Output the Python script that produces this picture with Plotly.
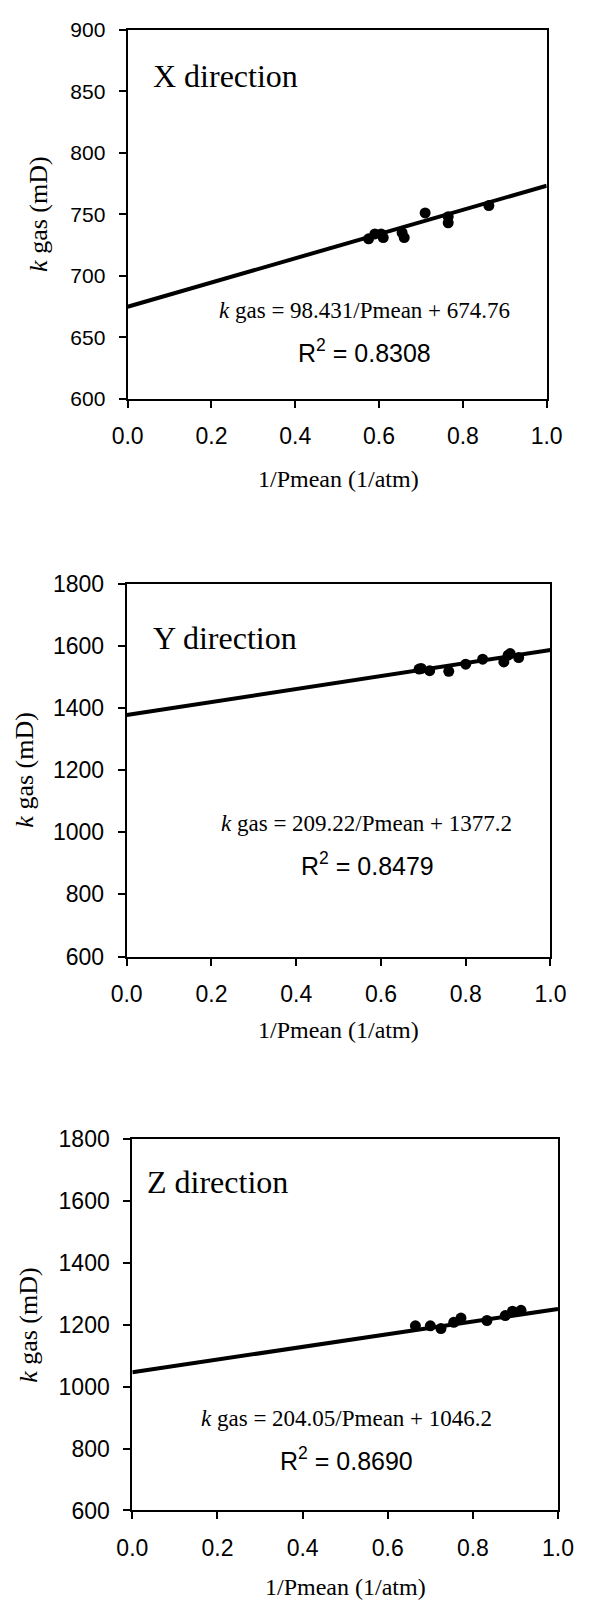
import plotly.graph_objects as go

W, H = 592, 1615

# ---- data ----
x_dir_x = [0.575, 0.59, 0.605, 0.61, 0.655, 0.66, 0.71, 0.765, 0.765, 0.862]
x_dir_y = [730, 734, 734, 731, 735, 731, 751, 748, 743, 757]
x_slope, x_intercept, x_r2 = 98.431, 674.76, "0.8308"

y_dir_x = [0.69, 0.695, 0.715, 0.76, 0.80, 0.84, 0.89, 0.90, 0.905, 0.925]
y_dir_y = [1525, 1527, 1520, 1518, 1541, 1557, 1548, 1570, 1575, 1562]
y_slope, y_intercept, y_r2 = 209.22, 1377.2, "0.8479"

z_dir_x = [0.665, 0.70, 0.725, 0.755, 0.772, 0.833, 0.876, 0.893, 0.913]
z_dir_y = [1196, 1196, 1187, 1207, 1221, 1213, 1229, 1243, 1246]
z_slope, z_intercept, z_r2 = 204.05, 1046.2, "0.8690"

x_ticks = [0.0, 0.2, 0.4, 0.6, 0.8, 1.0]
y_ticks_x = [600, 650, 700, 750, 800, 850, 900]
y_ticks_yz = [600, 800, 1000, 1200, 1400, 1600, 1800]

panels = [
    dict(name="X direction", xs=x_dir_x, ys=x_dir_y, slope=x_slope, icpt=x_intercept,
         r2=x_r2, yticks=y_ticks_x, ytsize=21, eq=f"{x_slope}/Pmean + {x_intercept}",
         box=(118, 561, 17, 392), lbl=(143, 64), eqc=(368, 302), r2c=(368, 344),
         xt=(341, 474), yt=36),
    dict(name="Y direction", xs=y_dir_x, ys=y_dir_y, slope=y_slope, icpt=y_intercept,
         r2=y_r2, yticks=y_ticks_yz, ytsize=23, eq=f"{y_slope}/Pmean + {y_intercept}",
         box=(117, 565, 580, 959), lbl=(143, 635), eqc=(371, 824), r2c=(372, 865),
         xt=(341, 1034), yt=21),
    dict(name="Z direction", xs=z_dir_x, ys=z_dir_y, slope=z_slope, icpt=z_intercept,
         r2=z_r2, yticks=y_ticks_yz, ytsize=23, eq=f"{z_slope}/Pmean + {z_intercept}",
         box=(123, 573, 1144, 1522), lbl=(136, 1188), eqc=(349, 1428), r2c=(349, 1470),
         xt=(348, 1600), yt=25),
]

SERIF = "Liberation Serif, Times New Roman, serif"
SANS = "Liberation Sans, Arial, sans-serif"

def px(x):
    return x / W

def py(y):
    return 1 - y / H

fig = go.Figure()
annotations = []
layout = {}
for i, p in enumerate(panels):
    n = "" if i == 0 else str(i + 1)
    xa, ya = "x" + n, "y" + n
    l, r, t, b = p["box"]
    # trend line
    fig.add_trace(go.Scatter(x=[0, 1], y=[p["icpt"], p["icpt"] + p["slope"]],
                             mode="lines", line=dict(color="black", width=4),
                             xaxis=xa, yaxis=ya, showlegend=False, hoverinfo="skip"))
    # data points
    fig.add_trace(go.Scatter(x=p["xs"], y=p["ys"], mode="markers",
                             marker=dict(color="black", size=11),
                             xaxis=xa, yaxis=ya, showlegend=False))
    layout["xaxis" + n] = dict(domain=[px(l), px(r)], range=[0, 1], anchor=ya,
                               tickvals=x_ticks, tickformat=".1f",
                               ticks="outside", ticklen=7, tickwidth=1.5, tickcolor="black",
                               ticklabelstandoff=9,
                               showline=True, linecolor="black", linewidth=2, mirror=True,
                               showgrid=False, zeroline=False,
                               tickfont=dict(family=SANS, size=23, color="black"))
    layout["yaxis" + n] = dict(domain=[py(b), py(t)], range=[p["yticks"][0], p["yticks"][-1]],
                               anchor=xa, tickvals=p["yticks"],
                               ticks="outside", ticklen=7, tickwidth=1.5, tickcolor="black",
                               ticklabelstandoff=9,
                               showline=True, linecolor="black", linewidth=2, mirror=True,
                               showgrid=False, zeroline=False,
                               tickfont=dict(family=SANS, size=p["ytsize"], color="black"))
    annotations += [
        dict(text=p["name"], x=px(p["lbl"][0]), y=py(p["lbl"][1]), xanchor="left", yanchor="middle",
             font=dict(family=SERIF, size=32, color="black")),
        dict(text="<i>k</i> gas = " + p["eq"], x=px(p["eqc"][0]), y=py(p["eqc"][1]),
             xanchor="center", yanchor="middle", font=dict(family=SERIF, size=23, color="black")),
        dict(text="R<sup>2</sup> = " + p["r2"], x=px(p["r2c"][0]), y=py(p["r2c"][1]),
             xanchor="center", yanchor="middle", font=dict(family=SANS, size=25, color="black")),
        dict(text="1/Pmean (1/atm)", x=px(p["xt"][0]), y=py(p["xt"][1]),
             xanchor="center", yanchor="middle", font=dict(family=SERIF, size=24, color="black")),
        dict(text="<i>k</i> gas (mD)", x=px(p["yt"] - 12), y=py((t + b) / 2), textangle=-90,
             xanchor="center", yanchor="middle", font=dict(family=SERIF, size=26, color="black")),
    ]

for a in annotations:
    a.update(xref="paper", yref="paper", showarrow=False)

fig.update_layout(width=W, height=H, margin=dict(l=0, r=0, t=0, b=0),
                  paper_bgcolor="white", plot_bgcolor="white",
                  annotations=annotations, **layout)
fig.write_html("out.html")
